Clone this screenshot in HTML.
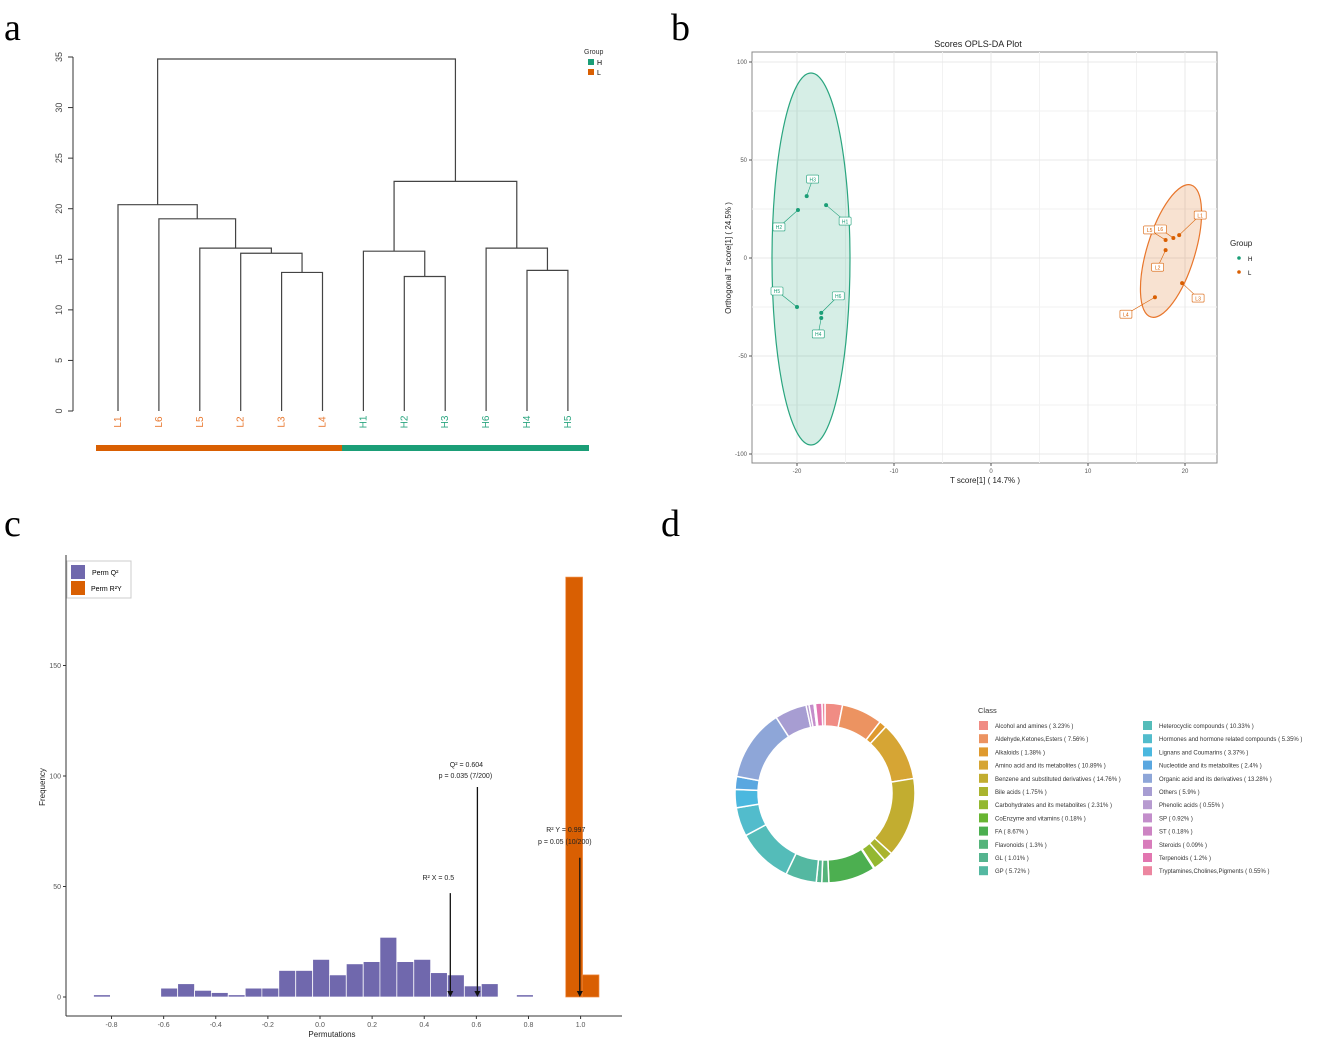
<!DOCTYPE html>
<html><head><meta charset="utf-8"><style>
body{margin:0;background:#fff;}
svg{display:block;font-family:"Liberation Sans",sans-serif;}
</style></head><body>
<svg id="fig" width="1325" height="1044" viewBox="0 0 1325 1044" xmlns="http://www.w3.org/2000/svg">
<g font-family="Liberation Serif,serif" font-size="38" fill="#000">
<text x="4" y="40">a</text>
<text x="671" y="40">b</text>
<text x="4" y="536">c</text>
<text x="661" y="536">d</text>
</g>
<g id="pa"></g>
<g id="pb"></g>
<g id="pc"></g>
<g id="pd"></g>
</svg>
<script>
const NS="http://www.w3.org/2000/svg";
function el(p,t,a,txt){const e=document.createElementNS(NS,t);for(const k in a)e.setAttribute(k,a[k]);if(txt!==undefined)e.textContent=txt;p.appendChild(e);return e;}
const ORANGE="#d95f02",GREEN="#1b9e77";

// ---------- Panel a: dendrogram ----------
const leafNames=["L1","L6","L5","L2","L3","L4","H1","H2","H3","H6","H4","H5"];
const yTicksA=[0,5,10,15,20,25,30,35];
// merges: [leftNode,rightNode,height]; leaves 0..11, new nodes 12..
const merges=[[4,5,13.7],[3,12,15.6],[2,13,16.1],[1,14,19.0],[0,15,20.4],[7,8,13.3],[6,17,15.8],[10,11,13.9],[9,19,16.1],[18,20,22.7],[16,21,34.8]];
(function(){
const g=document.getElementById('pa');
const ya=v=>411-v*(354/35), xa=i=>118+i*40.9;
let a=el(g,'line',{x1:73,y1:ya(0),x2:73,y2:ya(35),stroke:'#333','stroke-width':1});

yTicksA.forEach(t=>{el(g,'line',{x1:68,x2:73,y1:ya(t),y2:ya(t),stroke:'#333'});
 let tx=el(g,'text',{x:0,y:0,'font-size':9,fill:'#444','text-anchor':'middle',transform:`translate(62,${ya(t)}) rotate(-90)`},t);
 });
const nodes=leafNames.map((n,i)=>({x:xa(i),h:0}));
merges.forEach(m=>{const L=nodes[m[0]],R=nodes[m[1]],y=ya(m[2]);
 const p=el(g,'path',{d:`M${L.x},${ya(L.h)}V${y}H${R.x}V${ya(R.h)}`,fill:'none',stroke:'#444','stroke-width':1.2});
 
 nodes.push({x:(L.x+R.x)/2,h:m[2]});});
leafNames.forEach((n,i)=>{const t=el(g,'text',{x:0,y:0,'font-size':10,fill:n[0]=='L'?'#e8762c':'#2aa57f','text-anchor':'middle',transform:`translate(${xa(i)+3},422) rotate(-90)`},n);
 });
let r=el(g,'rect',{x:96,y:445,width:246,height:6,fill:ORANGE});
r=el(g,'rect',{x:342,y:445,width:247,height:6,fill:GREEN});
el(g,'text',{x:584,y:54,'font-size':7,fill:'#333'},'Group');
el(g,'rect',{x:588,y:59,width:6,height:6,fill:GREEN});el(g,'text',{x:597,y:65,'font-size':7},'H');
el(g,'rect',{x:588,y:69,width:6,height:6,fill:ORANGE});el(g,'text',{x:597,y:75,'font-size':7},'L');
})();

// ---------- Panel b: OPLS-DA ----------
const bXTicks=[-20,-10,0,10,20];
const bYTicks=[-100,-50,0,50,100];
const hNames=["H3","H2","H1","H5","H6","H4"];
const hX=[-19,-19.9,-17,-20,-17.5,-17.5];
const hY=[31.6,24.5,27,-25,-28,-30.6];
const lNames=["L5","L2","L6","L1","L3","L4"];
const lX=[18,18,18.8,19.4,19.7,16.9];
const lY=[9.2,4,10.2,11.7,-12.8,-20];
(function(){
const g=document.getElementById('pb');
const xb=v=>991+v*9.7, yb=v=>258-v*1.96;
el(g,'rect',{x:752,y:52,width:465,height:411,fill:'#fff',stroke:'#888','stroke-width':1});
[-15,-5,5,15].forEach(t=>el(g,'line',{x1:xb(t),x2:xb(t),y1:52,y2:463,stroke:'#f2f2f2'}));
[-75,-25,25,75].forEach(t=>el(g,'line',{y1:yb(t),y2:yb(t),x1:752,x2:1217,stroke:'#f2f2f2'}));
bXTicks.forEach(t=>{el(g,'line',{x1:xb(t),x2:xb(t),y1:52,y2:463,stroke:'#e8e8e8'});
 el(g,'line',{x1:xb(t),x2:xb(t),y1:463,y2:466,stroke:'#555'});
 const s=el(g,'text',{x:xb(t),y:473,'font-size':6,fill:'#555','text-anchor':'middle'},t);
 });
bYTicks.forEach(t=>{el(g,'line',{y1:yb(t),y2:yb(t),x1:752,x2:1217,stroke:'#e8e8e8'});
 el(g,'line',{y1:yb(t),y2:yb(t),x1:749,x2:752,stroke:'#555'});
 const s=el(g,'text',{x:747,y:yb(t)+2,'font-size':6,fill:'#555','text-anchor':'end'},t);
 });
let t=el(g,'text',{x:978,y:47,'font-size':9,fill:'#222','text-anchor':'middle'},'Scores OPLS-DA Plot');
t=el(g,'text',{x:985,y:483,'font-size':8,fill:'#222','text-anchor':'middle'},'T score[1] ( 14.7% )');
t=el(g,'text',{x:0,y:0,'font-size':8,fill:'#222','text-anchor':'middle',transform:'translate(731,258) rotate(-90)'},'Orthogonal T score[1] ( 24.5% )');
let e=el(g,'ellipse',{cx:811,cy:259,rx:39,ry:186,fill:'rgba(27,158,119,0.18)',stroke:'#2aa57f','stroke-width':1.2});
e=el(g,'ellipse',{cx:1171,cy:251,rx:24,ry:69,fill:'rgba(217,95,2,0.18)',stroke:'#e8762c','stroke-width':1.2,transform:'rotate(17 1171 251)'});
const hOff=[[6,-17],[-19,17],[19,16],[-20,-16],[17,-17],[-3,16]];
const lOff=[[-16,-10],[-8,17],[-13,-9],[21,-20],[16,15],[-29,17]];
function pts(names,xs,ys,offs,col,nm){names.forEach((n,i)=>{const px=xb(xs[i]),py=yb(ys[i]);const o=offs[i];
 el(g,'line',{x1:px,y1:py,x2:px+o[0],y2:py+o[1],stroke:col,'stroke-width':0.6});
 el(g,'rect',{x:px+o[0]-6,y:py+o[1]-4,width:12,height:8,fill:'#fff',stroke:col,'stroke-width':0.6,rx:1});
 el(g,'text',{x:px+o[0],y:py+o[1]+2.2,'font-size':5,fill:col,'text-anchor':'middle'},n);
 const c=el(g,'circle',{cx:px,cy:py,r:2,fill:col});});}
pts(hNames,hX,hY,hOff,GREEN,'h-score-point');
pts(lNames,lX,lY,lOff,ORANGE,'l-score-point');
t=el(g,'text',{x:1230,y:246,'font-size':8,fill:'#222'},'Group');
el(g,'circle',{cx:1239,cy:258,r:1.8,fill:GREEN});el(g,'text',{x:1248,y:261,'font-size':6},'H');
el(g,'circle',{cx:1239,cy:272,r:1.8,fill:ORANGE});el(g,'text',{x:1248,y:275,'font-size':6},'L');
})();

// ---------- Panel c: permutation histogram ----------
const q2BinStarts=[-0.869,-0.611,-0.546,-0.481,-0.417,-0.352,-0.287,-0.223,-0.158,-0.093,-0.028,0.036,0.101,0.166,0.230,0.295,0.360,0.424,0.489,0.554,0.619,0.754];
const q2Counts=[1,4,6,3,2,1,4,4,12,12,17,10,15,16,27,16,17,11,10,5,6,1];
const r2yBinStarts=[0.943,1.006];
const r2yCounts=[190,10];
const cXTicks=[-0.8,-0.6,-0.4,-0.2,0.0,0.2,0.4,0.6,0.8,1.0];
const cYTicks=[0,50,100,150];
const arrowX=[0.5,0.604,0.997];
const arrowTop=[47,95,63];
(function(){
const g=document.getElementById('pc');
const xc=v=>320+v*260.6, yc=v=>997-v*2.21, bw=0.0645;
el(g,'line',{x1:66,y1:555,x2:66,y2:1016,stroke:'#333'});
el(g,'line',{x1:66,y1:1016,x2:622,y2:1016,stroke:'#333'});
cXTicks.forEach(t=>{el(g,'line',{x1:xc(t),x2:xc(t),y1:1016,y2:1019,stroke:'#333'});
 const s=el(g,'text',{x:xc(t),y:1027,'font-size':7,fill:'#555','text-anchor':'middle'},t.toFixed(1));
 });
cYTicks.forEach(t=>{el(g,'line',{x1:63,x2:66,y1:yc(t),y2:yc(t),stroke:'#333'});
 const s=el(g,'text',{x:61,y:yc(t)+2.5,'font-size':7,fill:'#555','text-anchor':'end'},t);
 });
q2BinStarts.forEach((b,i)=>{const r=el(g,'rect',{x:xc(b),y:yc(q2Counts[i]),width:xc(b+bw)-xc(b),height:yc(0)-yc(q2Counts[i]),fill:'#7068ad',stroke:'#fff','stroke-width':0.7});
 });
r2yBinStarts.forEach((b,i)=>{const r=el(g,'rect',{x:xc(b),y:yc(r2yCounts[i]),width:xc(b+bw)-xc(b),height:yc(0)-yc(r2yCounts[i]),fill:ORANGE,stroke:'#f08a40','stroke-width':0.7});
 });
arrowX.forEach((v,i)=>{const x=xc(v);const l=el(g,'line',{x1:x,x2:x,y1:yc(arrowTop[i]),y2:yc(0)-2,stroke:'#111','stroke-width':1.3});
 
 el(g,'path',{d:`M${x-3},${yc(0)-6}L${x},${yc(0)}L${x+3},${yc(0)-6}Z`,fill:'#111'});});
const ann=[[xc(0.5)-12,880,'R² X = 0.5'],[xc(0.604)-11,767,'Q² = 0.604'],[xc(0.604)-12,778,'p = 0.035 (7/200)'],[xc(0.997)-14,832,'R² Y = 0.997'],[xc(0.997)-15,844,'p = 0.05 (10/200)']];
ann.forEach(a=>{const s=el(g,'text',{x:a[0],y:a[1],'font-size':7,fill:'#222','text-anchor':'middle'},a[2]);});
let t=el(g,'text',{x:332,y:1037,'font-size':8,fill:'#222','text-anchor':'middle'},'Permutations');
t=el(g,'text',{x:0,y:0,'font-size':8,fill:'#222','text-anchor':'middle',transform:'translate(45,787) rotate(-90)'},'Frequency');
const lg=el(g,'g',{});
el(lg,'rect',{x:67,y:561,width:64,height:37,fill:'#fff',stroke:'#ccc'});
el(lg,'rect',{x:71,y:565,width:14,height:14,fill:'#7068ad'});el(lg,'text',{x:92,y:575,'font-size':7},'Perm Q²');
el(lg,'rect',{x:71,y:581,width:14,height:14,fill:ORANGE});el(lg,'text',{x:91,y:591,'font-size':7},'Perm R²Y');
})();

// ---------- Panel d: donut ----------
const classNames=["Alcohol and amines","Aldehyde,Ketones,Esters","Alkaloids","Amino acid and its metabolites","Benzene and substituted derivatives","Bile acids","Carbohydrates and its metabolites","CoEnzyme and vitamins","FA","Flavonoids","GL","GP","Heterocyclic compounds","Hormones and hormone related compounds","Lignans and Coumarins","Nucleotide and its metabolites","Organic acid and its derivatives","Others","Phenolic acids","SP","ST","Steroids","Terpenoids","Tryptamines,Cholines,Pigments"];
const classPct=[3.23,7.56,1.38,10.89,14.76,1.75,2.31,0.18,8.67,1.30,1.01,5.72,10.33,5.35,3.37,2.4,13.28,5.9,0.55,0.92,0.18,0.09,1.2,0.55];
const classColors=["#f08c84","#ec9361","#df9a2e","#d6a534","#c2ad30","#aab42f","#93b830","#68b532","#4caf50","#55b47a","#55b48f","#54b8a1","#54bcb9","#52bccc","#4bb8df","#5aa7e0","#8ea6d8","#a79dd2","#b79bd0","#c38ecb","#cd84c3","#d87cbb","#e276b0","#ec86a0"];
(function(){
const g=document.getElementById('pd');
const cx=825,cy=793,R=90,r=67,total=classPct.reduce((a,b)=>a+b,0);
let ang=0;
classPct.forEach((v,i)=>{const a0=ang,a1=ang+v/total*2*Math.PI;ang=a1;
 const p=(rad,a)=>[cx+rad*Math.sin(a),cy-rad*Math.cos(a)];
 const [x0,y0]=p(R,a0),[x1,y1]=p(R,a1),[x2,y2]=p(r,a1),[x3,y3]=p(r,a0);const lg=(a1-a0)>Math.PI?1:0;
 const s=el(g,'path',{d:`M${x0},${y0}A${R},${R} 0 ${lg} 1 ${x1},${y1}L${x2},${y2}A${r},${r} 0 ${lg} 0 ${x3},${y3}Z`,fill:classColors[i],stroke:'#fff','stroke-width':1.5});
 });
let t=el(g,'text',{x:978,y:713,'font-size':7.5,fill:'#333'},'Class');
classNames.forEach((n,i)=>{const col=i<12?0:1,row=i%12;const x=col?1143:979,y=721+row*13.2;
 const e=el(g,'g',{});
 el(e,'rect',{x:x,y:y,width:9,height:9,fill:classColors[i]});
 el(e,'text',{x:x+16,y:y+7,'font-size':6,fill:'#333'},`${n} ( ${classPct[i]}% )`);});
})();
</script>
</body></html>
